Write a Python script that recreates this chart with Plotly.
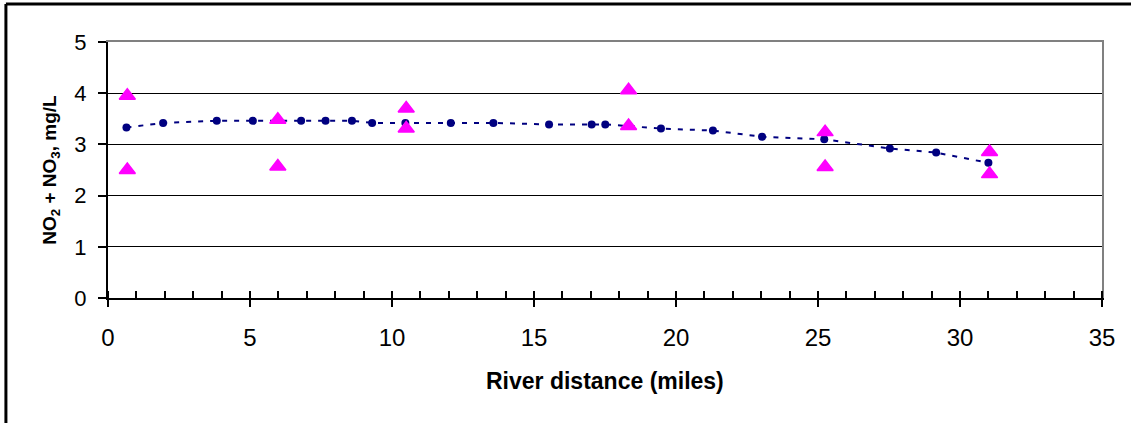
import plotly.graph_objects as go

# Modelled NO2+NO3 profile along the river (navy dots, dashed line)
model_miles = [0.65, 1.94, 3.83, 5.10, 6.80, 7.66, 8.59, 9.30, 10.47, 12.07, 13.57,
               15.53, 17.03, 17.51, 19.47, 21.30, 23.03, 25.22, 27.53, 29.16, 31.00]
model_conc = [3.33, 3.42, 3.46, 3.46, 3.46, 3.46, 3.46, 3.42, 3.42, 3.42, 3.42,
              3.39, 3.39, 3.39, 3.31, 3.27, 3.15, 3.10, 2.92, 2.84, 2.64]

# Observed samples (magenta triangles)
obs_miles = [0.68, 0.68, 5.98, 5.98, 10.50, 10.50, 18.33, 18.33, 25.25, 25.25, 31.04, 31.04]
obs_conc = [3.95, 2.50, 3.48, 2.57, 3.70, 3.31, 4.06, 3.36, 3.24, 2.56, 2.85, 2.42]

x_ticks = [0, 5, 10, 15, 20, 25, 30, 35]
y_ticks = [0, 1, 2, 3, 4, 5]

FONT = "Liberation Sans, Arial, sans-serif"
NAVY = "#000080"
MAGENTA = "#FF00FF"

fig = go.Figure()

fig.add_trace(go.Scatter(
    x=model_miles, y=model_conc, mode="lines+markers",
    line=dict(color=NAVY, width=2, dash="5px,7px"),
    marker=dict(color=NAVY, size=8, symbol="circle"),
    showlegend=False, hoverinfo="skip",
))

fig.add_trace(go.Scatter(
    x=obs_miles, y=obs_conc, mode="markers",
    marker=dict(color=MAGENTA, size=14, symbol="triangle-up",
                line=dict(color=MAGENTA, width=1.5)),
    showlegend=False, hoverinfo="skip",
))

# Invisible trace on the overlay axes so the grey plot-area frame is drawn
fig.add_trace(go.Scatter(x=[None], y=[None], xaxis="x2", yaxis="y2",
                         showlegend=False, hoverinfo="skip"))

# Chart frame: only its left and top edges fall inside the page
frame = dict(color="black", width=3)
shapes = [
    dict(type="line", xref="paper", yref="paper",
         x0=-0.1027, x1=-0.1027, y0=-0.488, y1=1.148, line=frame),
    dict(type="line", xref="paper", yref="paper",
         x0=-0.1027, x1=1.0298, y0=1.148, y1=1.148, line=frame),
]

fig.update_layout(
    width=1131, height=423,
    margin=dict(l=108, r=29, t=42, b=125),
    paper_bgcolor="white", plot_bgcolor="white",
    font=dict(family=FONT, color="black"),
    xaxis=dict(
        range=[0, 35], tickvals=x_ticks, ticktext=[str(v) for v in x_ticks],
        showgrid=False, zeroline=False,
        showline=True, linecolor="black", linewidth=2,
        ticks="outside", ticklen=7, tickwidth=1.5, tickcolor="black",
        minor=dict(dtick=1, ticks="inside", ticklen=7, tickwidth=1.5,
                   tickcolor="black", showgrid=False),
        tickfont=dict(family=FONT, size=24, color="black"),
        ticklabelstandoff=10,
    ),
    yaxis=dict(
        range=[0, 5], tickvals=y_ticks, ticktext=[str(v) for v in y_ticks],
        showgrid=True, gridcolor="black", gridwidth=1,
        zeroline=False,
        showline=True, linecolor="black", linewidth=2,
        ticks="outside", ticklen=8, tickwidth=1.5, tickcolor="black",
        tickfont=dict(family=FONT, size=22, color="black"),
        ticklabelstandoff=7,
        title=dict(text="<b>NO<sub>2</sub> + NO<sub>3</sub>, mg/L</b>",
                   font=dict(family=FONT, size=19, color="black"), standoff=13),
    ),
    xaxis2=dict(overlaying="x", side="top", range=[0, 35], showline=True,
                linecolor="#808080", linewidth=2, showticklabels=False,
                ticks="", showgrid=False, zeroline=False),
    yaxis2=dict(overlaying="y", side="right", range=[0, 5], showline=True,
                linecolor="#808080", linewidth=2, showticklabels=False,
                ticks="", showgrid=False, zeroline=False),
    shapes=shapes,
    annotations=[dict(
        text="<b>River distance (miles)</b>", xref="paper", yref="paper",
        x=0.5, y=-0.324, xanchor="center", yanchor="middle", showarrow=False,
        font=dict(family=FONT, size=23, color="black"),
    )],
)

fig.write_html("out.html")
